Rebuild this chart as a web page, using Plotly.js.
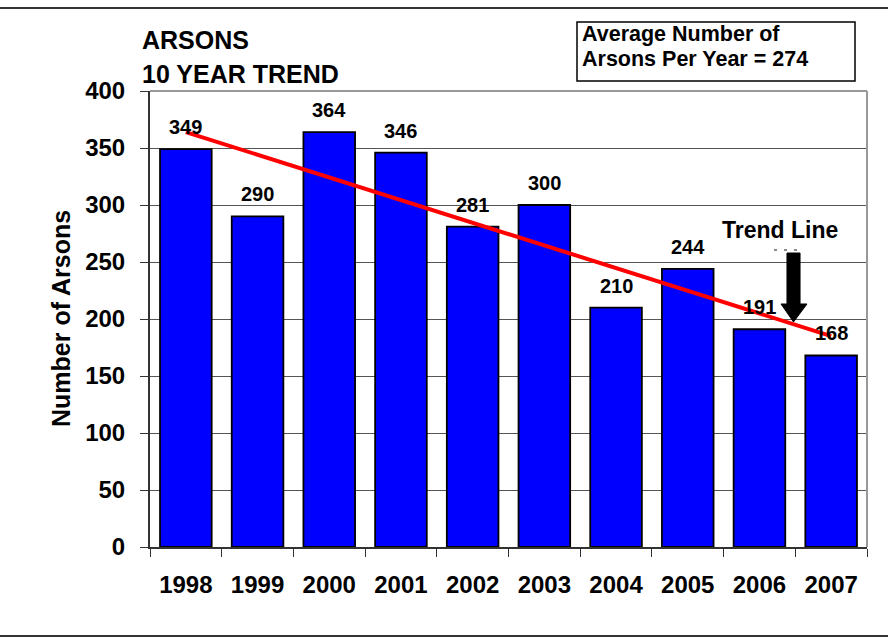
<!DOCTYPE html>
<html>
<head>
<meta charset="utf-8">
<script src="https://cdn.plot.ly/plotly-3.0.1.min.js"></script>
<style>html,body{margin:0;padding:0;background:#fff;}#chart{width:888px;height:638px;}</style>
</head>
<body>
<div id="chart"></div>
<script>
// ---- data ----
const years = ['1998','1999','2000','2001','2002','2003','2004','2005','2006','2007'];
const arsons = [349, 290, 364, 346, 281, 300, 210, 244, 191, 168];
const trendYears = ['1998','2007'];
const trendValues = [364, 185];
const titleLines = ['ARSONS', '10 YEAR TREND'];
const boxLines = ['Average Number of', 'Arsons Per Year = 274'];
const yTitle = 'Number of Arsons';
const trendLabel = 'Trend Line';

const FONT = '"Liberation Sans", Arial, Helvetica, sans-serif';
const W = 888, H = 638;
const L = 150, R = 21, T = 91, B = 91;
const pw = W - L - R, ph = H - T - B;
const px = x => (x - L) / pw;
const py = y => (H - B - y) / ph;

const bars = {
  type: 'bar', x: years, y: arsons,
  marker: {color: '#0000FF', line: {color: '#000000', width: 1.8}},
  hoverinfo: 'skip'
};
const trend = {
  type: 'scatter', mode: 'lines', x: trendYears, y: trendValues,
  line: {color: '#FF0000', width: 4}, hoverinfo: 'skip'
};

const annotations = [];
years.forEach((yr, i) => {
  annotations.push({
    x: years.indexOf(yr), y: arsons[i], xref: 'x', yref: 'y', text: String(arsons[i]),
    showarrow: false, yanchor: 'bottom', yshift: 9,
    font: {family: FONT, size: 20, color: '#000', weight: 700}
  });
});
annotations.push(
  {xref: 'paper', yref: 'paper', x: px(140), y: py(40.5), xanchor: 'left', yanchor: 'middle',
   text: titleLines[0], showarrow: false, font: {family: FONT, size: 25, color: '#000', weight: 700}},
  {xref: 'paper', yref: 'paper', x: px(140), y: py(73.5), xanchor: 'left', yanchor: 'middle',
   text: titleLines[1], showarrow: false, font: {family: FONT, size: 25, color: '#000', weight: 700}},
  {xref: 'paper', yref: 'paper', x: px(580), y: py(34), xanchor: 'left', yanchor: 'middle',
   text: boxLines[0], showarrow: false, font: {family: FONT, size: 21.5, color: '#000', weight: 700}},
  {xref: 'paper', yref: 'paper', x: px(580), y: py(59), xanchor: 'left', yanchor: 'middle',
   text: boxLines[1], showarrow: false, font: {family: FONT, size: 21.5, color: '#000', weight: 700}},
  {xref: 'paper', yref: 'paper', x: px(780), y: py(229.5), xanchor: 'center', yanchor: 'middle',
   text: trendLabel, showarrow: false, font: {family: FONT, size: 23, color: '#000', weight: 700}},
  {xref: 'paper', yref: 'paper', x: px(61), y: py(319), xanchor: 'center', yanchor: 'middle',
   text: yTitle, textangle: -90, showarrow: false, font: {family: FONT, size: 25, color: '#000', weight: 700}}
);

const f = v => v.toFixed(4);
const arrowPath = 'M ' + f(px(787)) + ' ' + f(py(253)) +
  ' L ' + f(px(800)) + ' ' + f(py(253)) +
  ' L ' + f(px(800)) + ' ' + f(py(304)) +
  ' L ' + f(px(807)) + ' ' + f(py(304)) +
  ' L ' + f(px(793.5)) + ' ' + f(py(322)) +
  ' L ' + f(px(781)) + ' ' + f(py(304)) +
  ' L ' + f(px(787)) + ' ' + f(py(304)) + ' Z';

const shapes = [
  // outer frame lines
  {type: 'line', xref: 'paper', yref: 'paper', x0: px(0), x1: px(888), y0: py(8), y1: py(8), line: {color: '#333', width: 2}},
  {type: 'line', xref: 'paper', yref: 'paper', x0: px(0), x1: px(888), y0: py(636), y1: py(636), line: {color: '#333', width: 2}},
  // plot-area border top/right
  {type: 'line', xref: 'paper', yref: 'paper', x0: 0, x1: 1, y0: 1, y1: 1, line: {color: '#999', width: 2}},
  {type: 'line', xref: 'paper', yref: 'paper', x0: 1, x1: 1, y0: 0, y1: 1, line: {color: '#999', width: 2}},
  // average box
  {type: 'rect', xref: 'paper', yref: 'paper', x0: px(577), x1: px(855), y0: py(81), y1: py(22),
   line: {color: '#000', width: 1.5}, fillcolor: 'rgba(0,0,0,0)'},
  // trend-line arrow
  {type: 'path', xref: 'paper', yref: 'paper', path: arrowPath, fillcolor: '#000', line: {color: '#000', width: 1}},
  {type: 'line', xref: 'paper', yref: 'paper', x0: px(774), x1: px(804), y0: py(250), y1: py(250),
   line: {color: '#666', width: 1.5, dash: '3px,7px'}}
];

const layout = {
  width: W, height: H,
  margin: {l: L, r: R, t: T, b: B, pad: 0},
  paper_bgcolor: '#fff', plot_bgcolor: '#fff',
  showlegend: false, bargap: 0.28,
  font: {family: FONT, color: '#000'},
  xaxis: {
    type: 'category', range: [-0.5, 9.5], tickson: 'boundaries',
    ticks: 'outside', ticklen: 8, tickwidth: 1, tickcolor: '#333',
    showline: true, linecolor: '#333', linewidth: 2, showgrid: false, zeroline: false,
    tickfont: {family: FONT, size: 24, color: '#000', weight: 700},
    ticklabelstandoff: 15, fixedrange: true
  },
  yaxis: {
    range: [0, 400], dtick: 50, tick0: 0,
    ticks: 'outside', ticklen: 8, tickwidth: 1, tickcolor: '#333',
    showline: true, linecolor: '#333', linewidth: 2,
    showgrid: true, gridcolor: '#555', gridwidth: 1, zeroline: false,
    tickfont: {family: FONT, size: 24, color: '#000', weight: 700},
    ticklabelstandoff: 10, fixedrange: true
  },
  annotations: annotations,
  shapes: shapes
};

Plotly.newPlot('chart', [bars, trend], layout, {displayModeBar: false, staticPlot: true});
</script>
</body>
</html>
